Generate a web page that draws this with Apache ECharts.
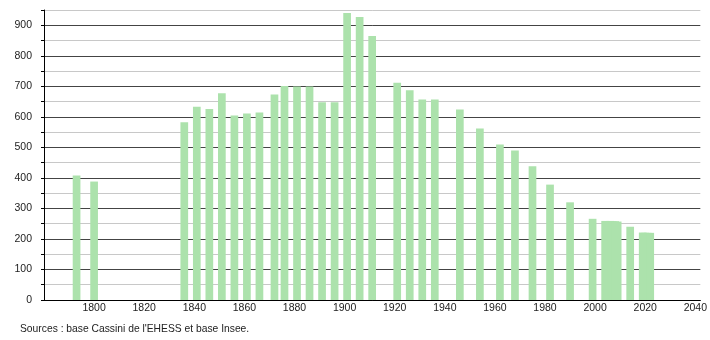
<!DOCTYPE html>
<html>
<head>
<meta charset="utf-8">
<script src="https://cdn.jsdelivr.net/npm/echarts@6/dist/echarts.min.js"></script>
<style>
html,body{margin:0;padding:0;background:#fff;}
#chart{width:710px;height:340px;}
</style>
</head>
<body>
<div id="chart"></div>
<script>
const years = [1793,1800,1836,1841,1846,1851,1856,1861,1866,1872,1876,1881,1886,1891,1896,1901,1906,1911,1921,1926,1931,1936,1946,1954,1962,1968,1975,1982,1990,1999,2004,2006,2007,2008,2009,2014,2019,2020,2021,2022];
const population = [408,388,582,633,626,677,604,611,614,673,701,699,699,648,648,940,927,865,712,687,657,657,624,562,509,490,438,378,320,266,259,259,258,258,257,240,221,220,220,220];
const sourceText = "Sources : base Cassini de l'EHESS et base Insee.";

const font = 'Liberation Sans, Arial, Helvetica, sans-serif';
const chart = echarts.init(document.getElementById('chart'), null, {renderer: 'canvas'});
chart.setOption({
  animation: false,
  backgroundColor: '#ffffff',
  grid: {left: 44, right: 9, top: 10, bottom: 40, containLabel: false},
  xAxis: {
    type: 'value', min: 1780, max: 2042, interval: 20,
    axisLine: {show: true, lineStyle: {color: '#000', width: 1}},
    axisTick: {show: false},
    splitLine: {show: false},
    axisLabel: {
      margin: 3, fontSize: 10.5, color: '#222', fontFamily: font,
      showMinLabel: true, showMaxLabel: true,
      formatter: function (v) { return (v % 20 === 0 && v > 1780) ? String(v) : ''; }
    }
  },
  yAxis: {
    type: 'value', min: 0, max: 950, interval: 50,
    axisLine: {show: true, lineStyle: {color: '#000', width: 1}},
    axisTick: {show: true, length: 3, lineStyle: {color: '#000'}},
    splitLine: {show: true, lineStyle: {color: ['#444', '#c8c8c8'], width: 1}},
    axisLabel: {
      margin: 12, fontSize: 10.5, color: '#222', fontFamily: font,
      formatter: function (v) { return v % 100 === 0 ? String(v) : ''; }
    }
  },
  series: [{
    type: 'bar',
    barWidth: 7.7,
    itemStyle: {color: '#ace2ac'},
    data: years.map((y, i) => [y, population[i]])
  }],
  graphic: [{
    type: 'text', left: 20, top: 324,
    style: {text: sourceText, fontSize: 10.3, fill: '#222', fontFamily: font}
  }]
});
</script>
</body>
</html>
